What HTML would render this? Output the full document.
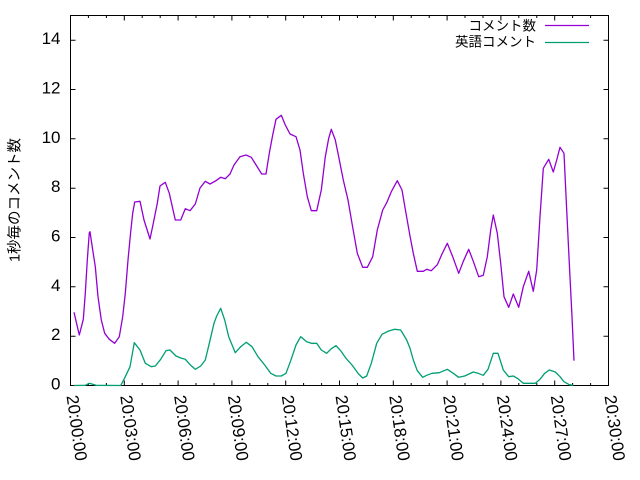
<!DOCTYPE html>
<html><head><meta charset="utf-8"><style>
html,body{margin:0;padding:0;background:#fff;}
svg{display:block;}
text{font-family:"Liberation Sans","Noto Sans CJK JP",sans-serif;fill:#000;}
</style></head><body>
<svg width="640" height="480" viewBox="0 0 640 480" xmlns="http://www.w3.org/2000/svg">
<rect x="0" y="0" width="640" height="480" fill="#fff"/>
<g stroke="#000" stroke-width="1" fill="none">
<path d="M70.5,15.5H608.5V385.5H70.5Z"/>
<!-- y ticks -->
<path d="M70.5,385.5h5M70.5,336.2h5M70.5,286.8h5M70.5,237.5h5M70.5,188.2h5M70.5,138.8h5M70.5,89.5h5M70.5,40.2h5"/>
<path d="M608.5,385.5h-5M608.5,336.2h-5M608.5,286.8h-5M608.5,237.5h-5M608.5,188.2h-5M608.5,138.8h-5M608.5,89.5h-5M608.5,40.2h-5"/>
<!-- x major -->
<path d="M70.5,385.5v-5M124.3,385.5v-5M178.1,385.5v-5M231.9,385.5v-5M285.7,385.5v-5M339.5,385.5v-5M393.3,385.5v-5M447.1,385.5v-5M500.9,385.5v-5M554.7,385.5v-5M608.5,385.5v-5"/>
<path d="M70.5,15.5v5M124.3,15.5v5M178.1,15.5v5M231.9,15.5v5M285.7,15.5v5M339.5,15.5v5M393.3,15.5v5M447.1,15.5v5M500.9,15.5v5M554.7,15.5v5M608.5,15.5v5"/>
<!-- x minor -->
<path d="M88.4,385.5v-2.5M106.4,385.5v-2.5M142.2,385.5v-2.5M160.2,385.5v-2.5M196.0,385.5v-2.5M214.0,385.5v-2.5M249.8,385.5v-2.5M267.8,385.5v-2.5M303.6,385.5v-2.5M321.6,385.5v-2.5M357.4,385.5v-2.5M375.4,385.5v-2.5M411.2,385.5v-2.5M429.2,385.5v-2.5M465.0,385.5v-2.5M483.0,385.5v-2.5M518.8,385.5v-2.5M536.8,385.5v-2.5M572.6,385.5v-2.5M590.6,385.5v-2.5"/>
<path d="M88.4,15.5v2.5M106.4,15.5v2.5M142.2,15.5v2.5M160.2,15.5v2.5M196.0,15.5v2.5M214.0,15.5v2.5M249.8,15.5v2.5M267.8,15.5v2.5M303.6,15.5v2.5M321.6,15.5v2.5M357.4,15.5v2.5M375.4,15.5v2.5M411.2,15.5v2.5M429.2,15.5v2.5M465.0,15.5v2.5M483.0,15.5v2.5M518.8,15.5v2.5M536.8,15.5v2.5M572.6,15.5v2.5M590.6,15.5v2.5"/>
</g>
<!-- y labels -->
<g font-size="17" text-anchor="end">
<text x="60.5" y="389.5">0</text>
<text x="60.5" y="340.2">2</text>
<text x="60.5" y="290.8">4</text>
<text x="60.5" y="241.5">6</text>
<text x="60.5" y="192.2">8</text>
<text x="60.5" y="142.8">10</text>
<text x="60.5" y="93.5">12</text>
<text x="60.5" y="44.2">14</text>
</g>
<!-- x labels -->
<g font-size="17">
<text transform="translate(66.5,396) rotate(82)">20:00:00</text>
<text transform="translate(120.3,396) rotate(82)">20:03:00</text>
<text transform="translate(174.1,396) rotate(82)">20:06:00</text>
<text transform="translate(227.9,396) rotate(82)">20:09:00</text>
<text transform="translate(281.7,396) rotate(82)">20:12:00</text>
<text transform="translate(335.5,396) rotate(82)">20:15:00</text>
<text transform="translate(389.3,396) rotate(82)">20:18:00</text>
<text transform="translate(443.1,396) rotate(82)">20:21:00</text>
<text transform="translate(496.9,396) rotate(82)">20:24:00</text>
<text transform="translate(550.7,396) rotate(82)">20:27:00</text>
<text transform="translate(604.5,396) rotate(82)">20:30:00</text>
</g>
<!-- y title -->
<text transform="translate(19.5,200) rotate(-90)" font-size="14.5" text-anchor="middle">1秒毎のコメント数</text>
<!-- legend -->
<g font-size="13.5" text-anchor="end">
<text x="536" y="30.3">コメント数</text>
<text x="536" y="46.5">英語コメント</text>
</g>
<path d="M545,25.5H589" stroke="#9400d3" stroke-width="1.2"/>
<path d="M545,42.5H589" stroke="#009e73" stroke-width="1.2"/>
<!-- series -->
<polyline fill="none" stroke="#9400d3" stroke-width="1.3" stroke-linejoin="round" points="74,312.3 79.3,335 83.3,319.3 85.3,293.3 87.3,260 89.3,232.7 90,231.7 92.7,250 95.3,266.7 98,296.7 101.3,320 104.7,333.3 109.3,339.3 114.7,343.3 119.3,336.7 122.7,316.7 125.3,293.3 128,260 130.7,231.7 132.7,213.3 134.7,202 140,201.3 144,220 150,239 153.3,223.3 157.3,203.3 160,186 165.3,182.3 169.3,193.3 175.3,220 180.7,220 185.3,208.7 190,210.7 195.3,204 200,188 205.3,181.3 210,184 216,180.7 220.7,177.3 225.3,178.7 230,174 234,165 240,156.7 246,155 251.3,157.3 256.7,166 261.7,174 266,174 269.3,153.3 272.7,135 276,119.3 281.3,115.3 285.3,125 290,134 296,136.7 300,150 303.3,173.3 307.3,196.7 311.3,210.7 316.7,210.7 321.3,190 325.3,156.7 328.7,138.3 331.3,129.3 335.3,140 338.7,156.7 343.3,180 348,200 352,223.3 357.3,253.3 362.7,267.3 367.3,267.3 372.7,256.7 377.3,230 382.7,210 386.7,202.7 391.3,191.7 397.3,180.7 402,190 406,213.3 410,236 413.3,253.3 417.3,271.3 423.3,271.3 426.7,269.3 431.3,270.7 437.3,264.7 442,254 447.3,243.3 452.7,256.7 458.7,273.3 463.3,261.3 468.7,249.3 473.3,261.3 478.7,276.7 483.3,275.3 487.3,256.7 490.7,230 493.3,215 497.3,233.3 500.7,263.3 504,296.7 508.7,307.3 513.3,294 518.7,307.3 523.3,286.7 528.7,271.3 533.3,291.3 536.7,270 540,216.7 543.3,168.3 548.7,159.3 553.3,172 556.7,160 560,147.3 564,153.3 566.7,210 569.3,263.3 572,316.7 574,360.7"/>
<polyline fill="none" stroke="#009e73" stroke-width="1.3" stroke-linejoin="round" points="74,385.5 85.3,385.3 89.3,383.3 96,385.3 120.7,385.5 125.3,376.7 130,366.7 134.3,342.7 140,350 145.3,363.3 151.3,366.7 155.3,366 160.7,359.3 166,350.7 170,350 176,356 180.7,358 185.3,359.3 190.7,365.3 195.3,369.3 200.7,366 205.3,360 209.3,343.3 214,323.3 216.7,316 220.7,308.3 224.7,320 228.7,336.7 235.3,352.7 240.7,346.7 246.3,342.3 252,346.7 258,356.7 264.7,365 270.7,373.3 276,376 281.3,376 286,373.3 290.7,360.7 296,345 300.7,336.7 306.7,341.7 311.3,343.3 316.7,343.3 321.3,350 326.7,353.3 331.3,348.7 336,345.7 340.7,350.7 346,358.3 352,365 358,373.3 362.7,378 366.7,376 371.3,363.3 376.7,343.3 382,334.3 388.7,331 394.7,329.3 400.7,330 406.7,340 410,348.3 413.3,360 417.3,370.7 422.7,377.3 426.7,375.3 432,373.3 439.3,372.7 447.3,369.3 453.3,373.3 458.7,377.3 464.7,376 473.3,372 478,373.3 483.3,375.3 488,369.3 493.3,353.3 498,353.3 503.3,370 508.7,376.7 513.3,376 518,378.7 523.3,383.3 535.3,383.3 540,379.3 544.7,373.3 549.3,370 555.3,372 560,376.7 564,381.7 569.3,384.7 573.3,385.3"/>
</svg>
</body></html>
